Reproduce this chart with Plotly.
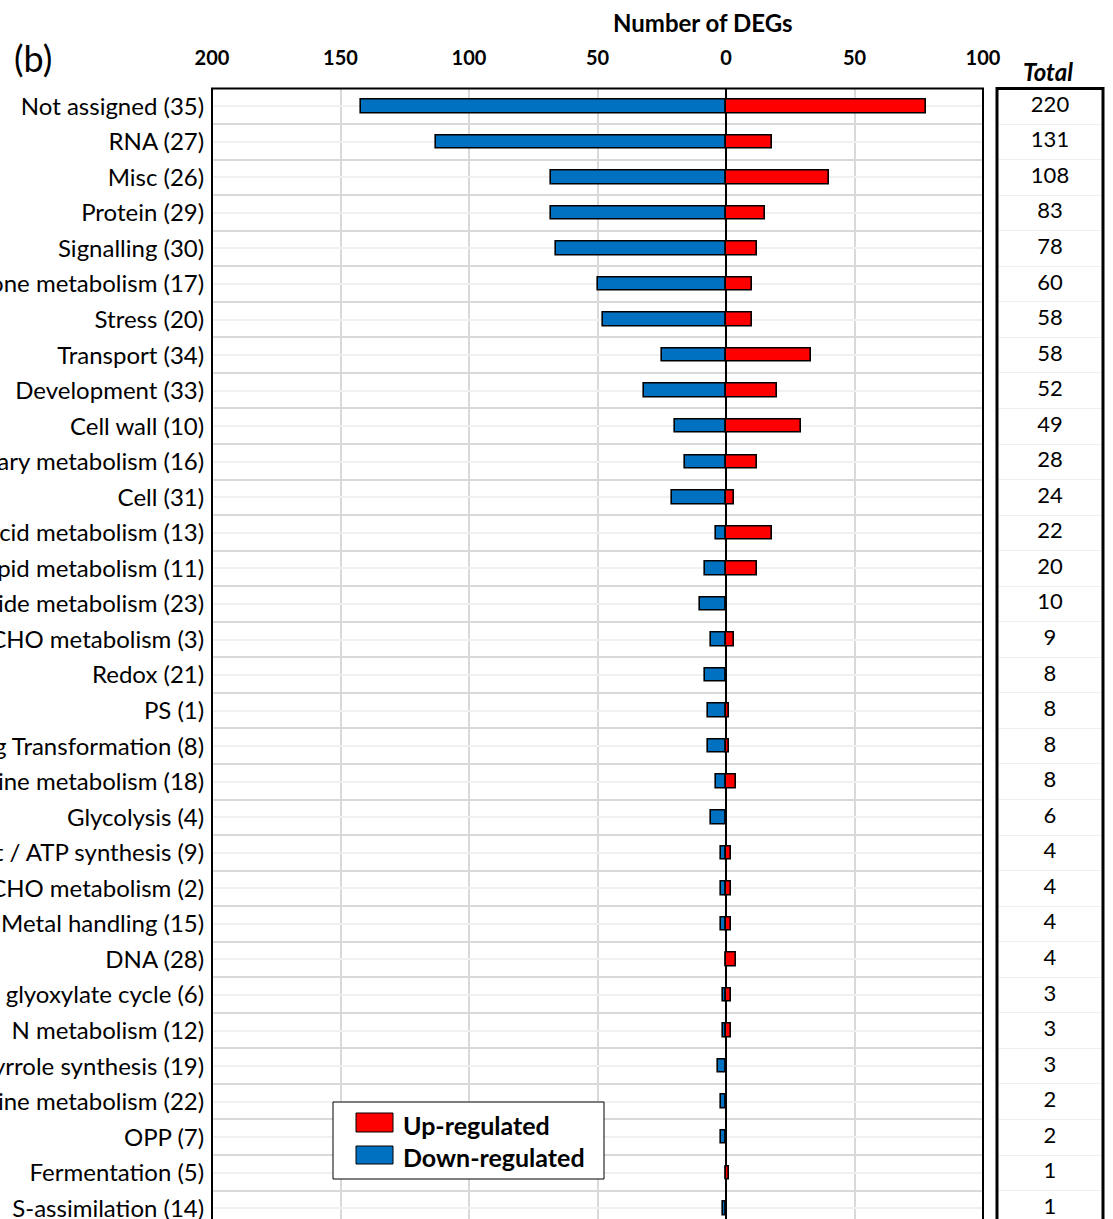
import plotly.graph_objects as go

categories = [
    "Not assigned (35)", "RNA (27)", "Misc (26)", "Protein (29)", "Signalling (30)",
    "Hormone metabolism (17)", "Stress (20)", "Transport (34)", "Development (33)",
    "Cell wall (10)", "Secondary metabolism (16)", "Cell (31)",
    "Amino acid metabolism (13)", "Lipid metabolism (11)", "Nucleotide metabolism (23)",
    "Minor CHO metabolism (3)", "Redox (21)", "PS (1)", "TCA / Org Transformation (8)",
    "Co-factor and vitamine metabolism (18)", "Glycolysis (4)",
    "Mitochondrial electron transport / ATP synthesis (9)", "Major CHO metabolism (2)",
    "Metal handling (15)", "DNA (28)", "Gluconeogenesis / glyoxylate cycle (6)",
    "N metabolism (12)", "Tetrapyrrole synthesis (19)", "Polyamine metabolism (22)",
    "OPP (7)", "Fermentation (5)", "S-assimilation (14)",
]
up_regulated = [78, 18, 40, 15, 12, 10, 10, 33, 20, 29, 12, 3, 18, 12, 0, 3, 0, 1, 1, 4,
                0, 2, 2, 2, 4, 2, 2, 0, 0, 0, 1, 0]
down_regulated = [142, 113, 68, 68, 66, 50, 48, 25, 32, 20, 16, 21, 4, 8, 10, 6, 8, 7, 7, 4,
                  6, 2, 2, 2, 0, 1, 1, 3, 2, 2, 0, 1]
totals = [220, 131, 108, 83, 78, 60, 58, 58, 52, 49, 28, 24, 22, 20, 10, 9, 8, 8, 8, 8,
          6, 4, 4, 4, 4, 3, 3, 3, 2, 2, 1, 1]
x_tick_vals = [-200, -150, -100, -50, 0, 50, 100]
x_tick_text = ["200", "150", "100", "50", "0", "50", "100"]

W, H = 1113, 1219
FONT = "Lato"
pos = list(range(len(categories)))
boundaries = [p + 0.5 for p in range(-1, len(categories))]

fig = go.Figure()
fig.add_trace(go.Bar(
    y=pos, x=[-v for v in down_regulated], orientation="h", name="Down-regulated",
    marker=dict(color="#0070C0", line=dict(color="black", width=1.6)),
    width=0.38, showlegend=False, hoverinfo="skip",
))
fig.add_trace(go.Bar(
    y=pos, x=up_regulated, orientation="h", name="Up-regulated",
    marker=dict(color="#FF0000", line=dict(color="black", width=1.6)),
    width=0.38, showlegend=False, hoverinfo="skip",
))
fig.add_trace(go.Scatter(
    x=[0.5] * len(totals), y=pos, text=[str(t) for t in totals], mode="text",
    textfont=dict(family=FONT, size=22, color="black"),
    xaxis="x2", yaxis="y2", showlegend=False, hoverinfo="skip", cliponaxis=False,
))

top_px = 88.5
row_px = 35.55
plot_h = H - top_px
rows_visible = plot_h / row_px
y_range = [-0.5 + rows_visible, -0.5]
y_dom = [0, 1 - top_px / H]

fig.update_layout(
    width=W, height=H,
    margin=dict(l=0, r=0, t=0, b=0, autoexpand=False),
    paper_bgcolor="white", plot_bgcolor="white",
    barmode="relative", bargap=0,
    font=dict(family=FONT, color="black"),
    xaxis=dict(
        domain=[212 / W, 983 / W], range=[-200, 100], side="top",
        tickvals=x_tick_vals, ticktext=x_tick_text,
        tickfont=dict(family=FONT, size=20, color="black", weight="bold"),
        ticks="outside", ticklen=15, tickcolor="rgba(0,0,0,0)",
        showgrid=True, gridcolor="#D9D9D9", gridwidth=2,
        zeroline=True, zerolinecolor="black", zerolinewidth=1.5,
        showline=False, fixedrange=True, automargin=False,
    ),
    yaxis=dict(
        domain=y_dom, range=y_range,
        tickvals=pos, ticktext=categories,
        tickfont=dict(family=FONT, size=24, color="black"),
        ticks="outside", ticklen=2, tickcolor="rgba(0,0,0,0)",
        ticklabeloverflow="allow",
        showgrid=True, gridcolor="#F0F0F0", gridwidth=1.5,
        minor=dict(tickvals=boundaries, showgrid=True, gridcolor="#D9D9D9", gridwidth=1.8),
        zeroline=False, showline=False, fixedrange=True, automargin=False,
    ),
    xaxis2=dict(
        domain=[997 / W, 1103 / W], range=[0, 1], anchor="y2",
        showticklabels=False, ticks="", showgrid=False, zeroline=False, showline=False,
        fixedrange=True, automargin=False,
    ),
    yaxis2=dict(
        domain=y_dom, range=y_range, anchor="x2",
        showticklabels=False, ticks="", showgrid=False, zeroline=False, showline=False,
        minor=dict(tickvals=boundaries, showgrid=True, gridcolor="#EFEFEF", gridwidth=1),
        fixedrange=True, automargin=False,
    ),
    shapes=[
        dict(type="path", path="M 0 0 L 0 1 L 1 1 L 1 0", xref="x domain", yref="y domain",
             line=dict(color="black", width=2), layer="above"),
        dict(type="path", path="M 0 0 L 0 1 L 1 1 L 1 0", xref="x2 domain", yref="y2 domain",
             line=dict(color="black", width=3), layer="above"),
        # legend box and swatches
        dict(type="rect", xref="paper", yref="paper",
             x0=333 / W, x1=604 / W, y0=1 - 1179 / H, y1=1 - 1102 / H,
             line=dict(color="black", width=1), fillcolor="white", layer="above"),
        dict(type="rect", xref="paper", yref="paper",
             x0=356 / W, x1=393 / W, y0=1 - 1132 / H, y1=1 - 1113 / H,
             line=dict(color="black", width=1), fillcolor="#FF0000", layer="above"),
        dict(type="rect", xref="paper", yref="paper",
             x0=356 / W, x1=393 / W, y0=1 - 1164 / H, y1=1 - 1146 / H,
             line=dict(color="black", width=1), fillcolor="#0070C0", layer="above"),
    ],
    annotations=[
        dict(text="Number of DEGs", x=703 / W, y=1 - 23 / H, xref="paper", yref="paper",
             showarrow=False, xanchor="center", yanchor="middle",
             font=dict(family=FONT, size=24, color="black", weight="bold")),
        dict(text="(b)", x=33 / W, y=1 - 58 / H, xref="paper", yref="paper",
             showarrow=False, xanchor="center", yanchor="middle",
             font=dict(family=FONT, size=36, color="black")),
        dict(text="Total", x=1048 / W, y=1 - 72 / H, xref="paper", yref="paper",
             showarrow=False, xanchor="center", yanchor="middle",
             font=dict(family=FONT, size=24, color="black", weight="bold", style="italic")),
        dict(text="Up-regulated", x=401 / W, y=1 - 1125 / H, xref="paper", yref="paper",
             showarrow=False, xanchor="left", yanchor="middle",
             font=dict(family=FONT, size=25, color="black", weight="bold")),
        dict(text="Down-regulated", x=401 / W, y=1 - 1157 / H, xref="paper", yref="paper",
             showarrow=False, xanchor="left", yanchor="middle",
             font=dict(family=FONT, size=25, color="black", weight="bold")),
    ],
)

fig.write_html(
    "out.html",
    config={"displayModeBar": False},
    post_script="document.body.style.margin='0px';document.body.style.overflow='hidden';",
)
